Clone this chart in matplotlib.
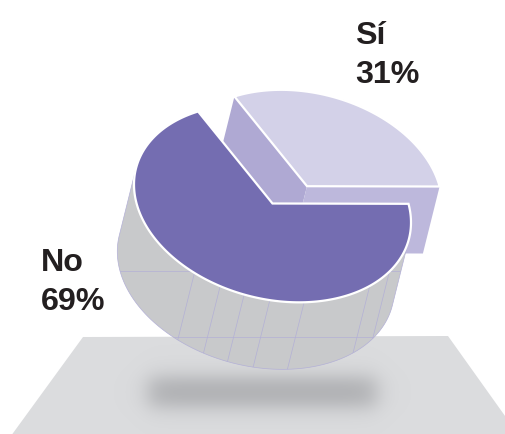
import numpy as np
import matplotlib
matplotlib.use("Agg")
import matplotlib.pyplot as plt
from matplotlib.patches import Polygon

plt.rcParams['font.family'] = ['Liberation Sans', 'DejaVu Sans']

# valores del grafico
categories = ['No', 'Sí']
shares = [69, 31]

WIDTH, HEIGHT = 505, 435

# disco inclinado: matriz circulo -> pixeles, centro y espesor
center = np.array([272.5, 204.5])
tilt = np.array([[138.5, 0.0], [19.0, 97.0]])
depth = np.array([-16.7, 67.0])
explode = np.array([34.5, -17.3])
si_scale = 0.975
si_start = -122.5

# rayas finas del lateral
side_angles = [124.3, 112.2, 101.8, 91.1, 76.8, 45.4, 32.4]
side_rows = [272, 338]

C_FLOOR = '#DBDCDE'
C_SHADOW = '#ABACAF'
C_SIDE = '#C8C9CB'
C_GRID = '#B3B0D6'
C_NO = '#746DB1'
C_SI_TOP = '#D3D1E8'
C_SI_WALL_A = '#AFA9D3'
C_SI_WALL_B = '#BDB8DC'
C_TEXT = '#231F20'


def arc(t0, t1, n=200):
    t = np.radians(np.linspace(t0, t1, n))
    return center + (tilt @ np.vstack([np.cos(t), np.sin(t)])).T


def point(t):
    return arc(t, t, 1)[0]


def soft_band(v, low, high, soft):
    return 0.5 * (np.tanh((v - low) / soft) - np.tanh((v - high) / soft))


fig = plt.figure(figsize=(WIDTH / 100, HEIGHT / 100), dpi=100)
ax = fig.add_axes([0, 0, 1, 1])
ax.set_xlim(0, WIDTH)
ax.set_ylim(HEIGHT, 0)
ax.axis('off')

# suelo
floor = Polygon([(83, 338), (448, 337), (530, 452), (0, 452)], closed=True,
                facecolor=C_FLOOR, edgecolor='none', zorder=1)
ax.add_patch(floor)

# sombra difusa sobre el suelo
xx, yy = np.meshgrid(np.arange(WIDTH), np.arange(HEIGHT))
shadow = np.zeros((HEIGHT, WIDTH, 4))
shadow[..., :3] = matplotlib.colors.to_rgb(C_SHADOW)
shadow[..., 3] = soft_band(xx, 148, 376, 13) * soft_band(yy, 378, 407, 12)
im = ax.imshow(shadow, extent=(0, WIDTH, HEIGHT, 0), zorder=2, aspect='auto',
               interpolation='bilinear')
im.set_clip_path(floor)
ax.set_xlim(0, WIDTH)
ax.set_ylim(HEIGHT, 0)

# angulos de cada porcion a partir de los porcentajes
si_sweep = shares[1] / sum(shares) * 360
si_end = si_start + si_sweep
no_start = si_end
no_end = si_start + 360

# porcion Sí, separada del disco y algo mas pequena
apex = center + explode
si_arc = center + (arc(si_start, si_end) - center) * si_scale + explode
s0 = si_arc[0]
s1 = si_arc[-1]
ax.add_patch(Polygon([s0, apex, apex + depth, s0 + depth], closed=True,
                     facecolor=C_SI_WALL_A, edgecolor='none', zorder=3))
ax.add_patch(Polygon([apex, s1, s1 + depth, apex + depth], closed=True,
                     facecolor=C_SI_WALL_B, edgecolor='none', zorder=3))
ax.add_patch(Polygon(np.vstack([apex, si_arc]), closed=True,
                     facecolor=C_SI_TOP, edgecolor='white', linewidth=1.6,
                     joinstyle='miter', zorder=4))

# lateral visible de la porcion No
u = np.linalg.solve(tilt, depth)
tangent = np.degrees(np.arctan2(u[1], u[0]))
top = arc(tangent - 90, tangent + 90)
side = Polygon(np.vstack([top, (top + depth)[::-1]]), closed=True,
               facecolor=C_SIDE, edgecolor=C_GRID, linewidth=0.5, zorder=5)
ax.add_patch(side)
for t in side_angles:
    p = point(t)
    line, = ax.plot([p[0], p[0] + depth[0]], [p[1], p[1] + depth[1]],
                    color=C_GRID, lw=0.5, zorder=6)
    line.set_clip_path(side)
for row in side_rows:
    line, = ax.plot([0, WIDTH], [row, row], color=C_GRID, lw=0.5, zorder=6)
    line.set_clip_path(side)

# cara superior de la porcion No
ax.add_patch(Polygon(np.vstack([center, arc(no_start, no_end)]), closed=True,
                     facecolor=C_NO, edgecolor='white', linewidth=1.6,
                     joinstyle='miter', zorder=7))

# etiquetas
label_pos = {'No': (41, 271), 'Sí': (355, 44)}
for cat, share in zip(categories, shares):
    x, y = label_pos[cat]
    ax.text(x, y, cat, fontsize=23.2, fontweight='bold', color=C_TEXT,
            ha='left', va='baseline', zorder=8)
    ax.text(x, y + 39, f'{share}%', fontsize=23.2, fontweight='bold', color=C_TEXT,
            ha='left', va='baseline', zorder=8)

fig.savefig('out.png', dpi=100, facecolor='white')
